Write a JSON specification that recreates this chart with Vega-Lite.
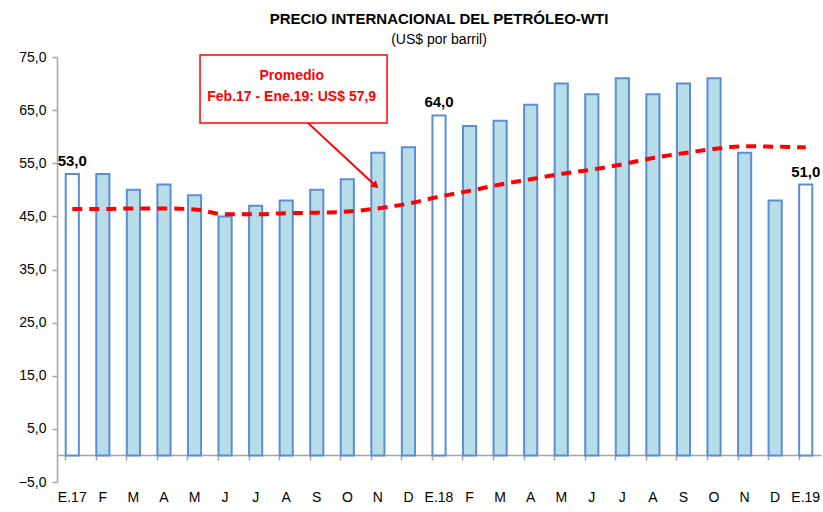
{
  "$schema": "https://vega.github.io/schema/vega-lite/v6.json",
  "width": 764,
  "height": 425,
  "autosize": "none",
  "padding": {"left": 57, "top": 57, "right": 2, "bottom": 30},
  "background": "white",
  "title": {
    "text": "PRECIO INTERNACIONAL DEL PETRÓLEO-WTI",
    "subtitle": "(US$ por barril)",
    "anchor": "middle",
    "font": "Liberation Sans",
    "fontSize": 15,
    "fontWeight": "bold",
    "color": "#000000",
    "subtitleFont": "Liberation Sans",
    "subtitleFontSize": 14,
    "subtitleColor": "#000000",
    "subtitlePadding": 6,
    "offset": 3
  },
  "config": {
    "view": {"stroke": null},
    "font": "Liberation Sans",
    "locale": {"number": {"decimal": ",", "thousands": ".", "grouping": [3], "currency": ["US$", ""]}}
  },
  "datasets": {
    "precios": [
      {"clave": "E.17|1", "valor": 53.0, "promedio": 46.4},
      {"clave": "F|2", "valor": 53.0, "promedio": 46.4},
      {"clave": "M|3", "valor": 50.0, "promedio": 46.5},
      {"clave": "A|4", "valor": 51.0, "promedio": 46.5},
      {"clave": "M|5", "valor": 49.0, "promedio": 46.3},
      {"clave": "J|6", "valor": 45.0, "promedio": 45.4},
      {"clave": "J|7", "valor": 47.0, "promedio": 45.4},
      {"clave": "A|8", "valor": 48.0, "promedio": 45.6},
      {"clave": "S|9", "valor": 50.0, "promedio": 45.7},
      {"clave": "O|10", "valor": 52.0, "promedio": 45.9},
      {"clave": "N|11", "valor": 57.0, "promedio": 46.5},
      {"clave": "D|12", "valor": 58.0, "promedio": 47.4},
      {"clave": "E.18|13", "valor": 64.0, "promedio": 48.7},
      {"clave": "F|14", "valor": 62.0, "promedio": 49.8},
      {"clave": "M|15", "valor": 63.0, "promedio": 51.0},
      {"clave": "A|16", "valor": 66.0, "promedio": 52.0},
      {"clave": "M|17", "valor": 70.0, "promedio": 53.0},
      {"clave": "J|18", "valor": 68.0, "promedio": 53.8},
      {"clave": "J|19", "valor": 71.0, "promedio": 54.8},
      {"clave": "A|20", "valor": 68.0, "promedio": 56.0},
      {"clave": "S|21", "valor": 70.0, "promedio": 56.9},
      {"clave": "O|22", "valor": 71.0, "promedio": 57.7},
      {"clave": "N|23", "valor": 57.0, "promedio": 58.2},
      {"clave": "D|24", "valor": 48.0, "promedio": 58.1},
      {"clave": "E.19|25", "valor": 51.0, "promedio": 58.0}
    ],
    "nota": [
      {"x0": 4.68, "x1": 10.8, "y0": 62.6, "y1": 75.4, "xt": 7.68, "yt": 71.4, "texto": ["Promedio", "Feb.17 - Ene.19: US$ 57,9"], "ax0": 8.21, "ay0": 62.6, "ax1": 10.4, "ay1": 50.9}
    ]
  },
  "resolve": {"scale": {"x": "independent"}},
  "layer": [
    {
      "data": {"name": "precios"},
      "encoding": {
        "x": {
          "field": "clave",
          "type": "nominal",
          "sort": null,
          "scale": {"paddingInner": 0.57, "paddingOuter": 0.285},
          "axis": {
            "title": null,
            "labelExpr": "split(datum.value, '|')[0]",
            "labelAngle": 0,
            "bandPosition": 0,
            "offset": -27,
            "domainColor": "#A6A6A6",
            "domainWidth": 1.5,
            "tickColor": "#A6A6A6",
            "tickWidth": 1.5,
            "tickSize": 5,
            "labelPadding": 30,
            "labelFontSize": 14,
            "labelColor": "#000000",
            "labelFont": "Liberation Sans"
          }
        }
      },
      "layer": [
        {
          "mark": {"type": "bar", "stroke": "#5B8DD9", "strokeWidth": 2},
          "encoding": {
            "y": {
              "field": "valor",
              "type": "quantitative",
              "scale": {"domain": [-5, 75], "nice": false, "zero": false},
              "axis": {
                "title": null,
                "values": [-5, 5, 15, 25, 35, 45, 55, 65, 75],
                "format": ".1f",
                "grid": false,
                "domainColor": "#A6A6A6",
                "domainWidth": 1.5,
                "tickColor": "#A6A6A6",
                "tickWidth": 1.5,
                "tickSize": 5,
                "labelPadding": 6,
                "labelFontSize": 14,
                "labelColor": "#000000",
                "labelFont": "Liberation Sans"
              }
            },
            "y2": {"datum": 0},
            "fill": {
              "condition": {"test": "indexof(datum.clave, 'E.') === 0", "value": "#FFFFFF"},
              "value": "#B7DEE8"
            }
          }
        },
        {
          "transform": [{"filter": "indexof(datum.clave, 'E.') === 0"}],
          "mark": {"type": "text", "baseline": "bottom", "dy": -5, "fontSize": 15, "fontWeight": "bold", "font": "Liberation Sans", "color": "#000000"},
          "encoding": {
            "y": {"field": "valor", "type": "quantitative"},
            "text": {"field": "valor", "type": "quantitative", "format": ".1f"}
          }
        },
        {
          "mark": {"type": "line", "color": "#FF0000", "strokeWidth": 4, "strokeDash": [10, 7], "interpolate": "monotone"},
          "encoding": {
            "y": {"field": "promedio", "type": "quantitative"}
          }
        }
      ]
    },
    {
      "data": {"name": "nota"},
      "encoding": {},
      "layer": [
        {
          "mark": {"type": "rect", "fill": "#FFFFFF", "stroke": "#FF0000", "strokeWidth": 1.5},
          "encoding": {
            "x": {"field": "x0", "type": "quantitative", "scale": {"domain": [0, 25], "nice": false}, "axis": null},
            "x2": {"field": "x1"},
            "y": {"field": "y0", "type": "quantitative"},
            "y2": {"field": "y1"}
          }
        },
        {
          "mark": {"type": "text", "color": "#FF0000", "fontSize": 14, "fontWeight": "bold", "font": "Liberation Sans", "align": "center", "baseline": "middle", "lineHeight": 21},
          "encoding": {
            "x": {"field": "xt", "type": "quantitative", "scale": {"domain": [0, 25], "nice": false}, "axis": null},
            "y": {"field": "yt", "type": "quantitative"},
            "text": {"field": "texto"}
          }
        },
        {
          "mark": {"type": "rule", "color": "#FF0000", "strokeWidth": 2},
          "encoding": {
            "x": {"field": "ax0", "type": "quantitative", "scale": {"domain": [0, 25], "nice": false}, "axis": null},
            "x2": {"field": "ax1"},
            "y": {"field": "ay0", "type": "quantitative"},
            "y2": {"field": "ay1"}
          }
        },
        {
          "mark": {"type": "point", "shape": "triangle", "filled": true, "color": "#FF0000", "size": 70, "angle": 133, "opacity": 1},
          "encoding": {
            "x": {"field": "ax1", "type": "quantitative", "scale": {"domain": [0, 25], "nice": false}, "axis": null},
            "y": {"field": "ay1", "type": "quantitative"}
          }
        }
      ]
    }
  ]
}
